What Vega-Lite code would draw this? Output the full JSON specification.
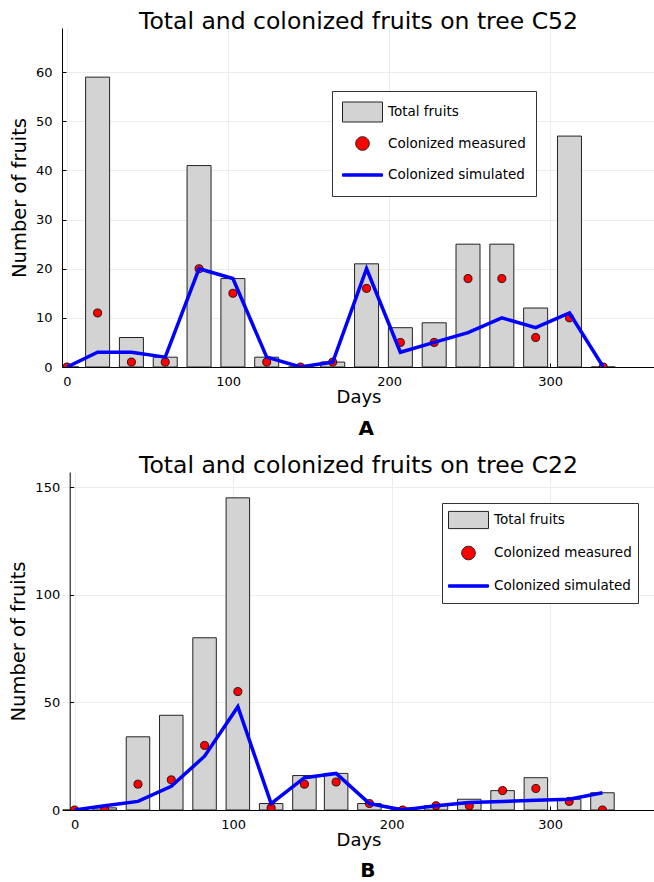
{
  "$schema": "https://vega.github.io/schema/vega-lite/v6.json",
  "padding": {"left": 8, "top": 9, "right": 0, "bottom": 0},
  "background": "white",
  "spacing": 14,
  "resolve": {"scale": {"color": "independent"}, "legend": {"color": "independent"}},
  "config": {
    "view": {"stroke": null},
    "font": "DejaVu Sans",
    "title": {"font": "DejaVu Sans", "fontSize": 23.5, "fontWeight": "normal", "color": "#000", "offset": -5, "anchor": "middle"},
    "axis": {
      "domainColor": "#000", "domainWidth": 1, "gridColor": "#ececec", "gridWidth": 1,
      "tickColor": "#000", "tickSize": -4, "labelFont": "DejaVu Sans", "labelFontSize": 13,
      "labelColor": "#000", "titleFont": "DejaVu Sans",
      "titleFontWeight": "normal", "titleColor": "#000", "labelFlush": false
    },
    "axisX": {"labelPadding": 12, "titlePadding": 0, "titleFontSize": 18},
    "axisY": {"labelPadding": 14, "titlePadding": 6, "titleFontSize": 19.5}
  },
  "vconcat": [
    {
      "title": {"text": "A", "orient": "bottom", "fontSize": 20, "fontWeight": "bold", "offset": 13, "dx": 34},
      "vconcat": [
        {
          "title": {"text": "Total and colonized fruits on tree C52"},
          "width": 593,
          "height": 339,
          "data": {"values": [
            {"day": 0, "total": 0, "measured": 0, "simulated": 0},
            {"day": 19, "total": 59, "measured": 11, "simulated": 3},
            {"day": 40, "total": 6, "measured": 1, "simulated": 3},
            {"day": 61, "total": 2, "measured": 1, "simulated": 2},
            {"day": 82, "total": 41, "measured": 20, "simulated": 20},
            {"day": 103, "total": 18, "measured": 15, "simulated": 18},
            {"day": 124, "total": 2, "measured": 1, "simulated": 2},
            {"day": 145, "total": 0, "measured": 0, "simulated": 0},
            {"day": 165, "total": 1, "measured": 1, "simulated": 1},
            {"day": 186, "total": 21, "measured": 16, "simulated": 20},
            {"day": 207, "total": 8, "measured": 5, "simulated": 3},
            {"day": 228, "total": 9, "measured": 5, "simulated": 5},
            {"day": 249, "total": 25, "measured": 18, "simulated": 7},
            {"day": 270, "total": 25, "measured": 18, "simulated": 10},
            {"day": 291, "total": 12, "measured": 6, "simulated": 8},
            {"day": 312, "total": 47, "measured": 10, "simulated": 11},
            {"day": 333, "total": 0, "measured": 0, "simulated": 0}
          ]},
          "encoding": {
            "x": {"field": "day", "type": "quantitative", "title": "Days",
                  "scale": {"domain": [0, 362], "nice": false},
                  "axis": {"values": [0, 100, 200, 300]}}
          },
          "layer": [
            {
              "mark": {"type": "bar", "orient": "vertical", "size": 24, "fill": "#d3d3d3", "stroke": "#222", "strokeWidth": 1, "clip": true},
              "encoding": {
                "y": {"field": "total", "type": "quantitative", "stack": null, "title": "Number of fruits",
                      "scale": {"domain": [0, 69], "nice": false},
                      "axis": {"values": [0, 10, 20, 30, 40, 50, 60]}}
              }
            },
            {
              "mark": {"type": "point", "filled": true, "size": 65, "stroke": "#000", "strokeWidth": 0.8, "opacity": 1, "clip": true},
              "encoding": {
                "y": {"field": "measured", "type": "quantitative", "title": "Number of fruits"},
                "color": {
                  "datum": "Colonized measured", "type": "nominal",
                  "scale": {"domain": ["Total fruits", "Colonized measured", "Colonized simulated"],
                            "range": ["#d3d3d3", "#ff0000", "#0000ff"]},
                  "legend": {
                    "title": null, "orient": "none", "legendX": 270, "legendY": 63, "direction": "vertical",
                    "fillColor": "white", "strokeColor": "#333", "padding": 10,
                    "symbolSize": 1600, "symbolStrokeWidth": 1, "clipHeight": 22, "rowPadding": 9.5,
                    "symbolOpacity": 1,
                    "symbolType": {"expr": "datum.value === 'Total fruits' ? 'M-1,-0.5H1V0.5H-1Z' : datum.value === 'Colonized measured' ? 'M-0.34,0A0.34,0.34,0,1,0,0.34,0A0.34,0.34,0,1,0,-0.34,0Z' : 'M-1,-0.06H1V0.06H-1Z'"},
                    "symbolStrokeColor": {"expr": "datum.value === 'Colonized simulated' ? '#0000ff' : '#222'"},
                    "labelOffset": 5, "labelFont": "DejaVu Sans", "labelFontSize": 13.5, "labelColor": "#000", "labelLimit": 300
                  }
                }
              }
            },
            {
              "mark": {"type": "line", "strokeWidth": 3.5, "stroke": "#0000ff", "clip": true},
              "encoding": {
                "y": {"field": "simulated", "type": "quantitative", "title": "Number of fruits"}
              }
            }
          ]
        }
      ]
    },
    {
      "title": {"text": "B", "orient": "bottom", "fontSize": 20, "fontWeight": "bold", "offset": 12, "dx": 36},
      "vconcat": [
        {
          "title": {"text": "Total and colonized fruits on tree C22"},
          "width": 593,
          "height": 338,
          "data": {"values": [
            {"day": 0, "total": 0, "measured": 0, "simulated": 0},
            {"day": 19, "total": 1, "measured": 0, "simulated": 2},
            {"day": 40, "total": 34, "measured": 12, "simulated": 4},
            {"day": 61, "total": 44, "measured": 14, "simulated": 11},
            {"day": 82, "total": 80, "measured": 30, "simulated": 25},
            {"day": 103, "total": 145, "measured": 55, "simulated": 48},
            {"day": 124, "total": 3, "measured": 1, "simulated": 3},
            {"day": 145, "total": 16, "measured": 12, "simulated": 15},
            {"day": 165, "total": 17, "measured": 13, "simulated": 17},
            {"day": 186, "total": 3, "measured": 3, "simulated": 3},
            {"day": 207, "total": 1, "measured": 0, "simulated": 0},
            {"day": 228, "total": 2, "measured": 2, "simulated": 2},
            {"day": 249, "total": 5, "measured": 2, "simulated": 3.5},
            {"day": 270, "total": 9, "measured": 9, "simulated": 4},
            {"day": 291, "total": 15, "measured": 10, "simulated": 4.5},
            {"day": 312, "total": 5, "measured": 4, "simulated": 5},
            {"day": 333, "total": 8, "measured": 0, "simulated": 8}
          ]},
          "encoding": {
            "x": {"field": "day", "type": "quantitative", "title": "Days",
                  "scale": {"domain": [-4.78, 363], "nice": false, "zero": false},
                  "axis": {"values": [0, 100, 200, 300]}}
          },
          "layer": [
            {
              "mark": {"type": "bar", "orient": "vertical", "size": 23.5, "fill": "#d3d3d3", "stroke": "#222", "strokeWidth": 1, "clip": true},
              "encoding": {
                "y": {"field": "total", "type": "quantitative", "stack": null, "title": "Number of fruits",
                      "scale": {"domain": [0, 157], "nice": false},
                      "axis": {"values": [0, 50, 100, 150], "offset": -7.7}}
              }
            },
            {
              "mark": {"type": "point", "filled": true, "size": 65, "stroke": "#000", "strokeWidth": 0.8, "opacity": 1, "clip": true},
              "encoding": {
                "y": {"field": "measured", "type": "quantitative", "title": "Number of fruits"},
                "color": {
                  "datum": "Colonized measured", "type": "nominal",
                  "scale": {"domain": ["Total fruits", "Colonized measured", "Colonized simulated"],
                            "range": ["#d3d3d3", "#ff0000", "#0000ff"]},
                  "legend": {
                    "title": null, "orient": "none", "legendX": 380, "legendY": 31, "direction": "vertical",
                    "fillColor": "white", "strokeColor": "#333", "padding": 6,
                    "symbolSize": 1600, "symbolStrokeWidth": 1, "clipHeight": 22, "rowPadding": 11,
                    "symbolOpacity": 1,
                    "symbolType": {"expr": "datum.value === 'Total fruits' ? 'M-1,-0.43H1V0.43H-1Z' : datum.value === 'Colonized measured' ? 'M-0.34,0A0.34,0.34,0,1,0,0.34,0A0.34,0.34,0,1,0,-0.34,0Z' : 'M-1,-0.06H1V0.06H-1Z'"},
                    "symbolStrokeColor": {"expr": "datum.value === 'Colonized simulated' ? '#0000ff' : '#222'"},
                    "labelOffset": 5, "labelFont": "DejaVu Sans", "labelFontSize": 13.5, "labelColor": "#000", "labelLimit": 300
                  }
                }
              }
            },
            {
              "mark": {"type": "line", "strokeWidth": 3.5, "stroke": "#0000ff", "clip": true},
              "encoding": {
                "y": {"field": "simulated", "type": "quantitative", "title": "Number of fruits"}
              }
            }
          ]
        }
      ]
    }
  ]
}
